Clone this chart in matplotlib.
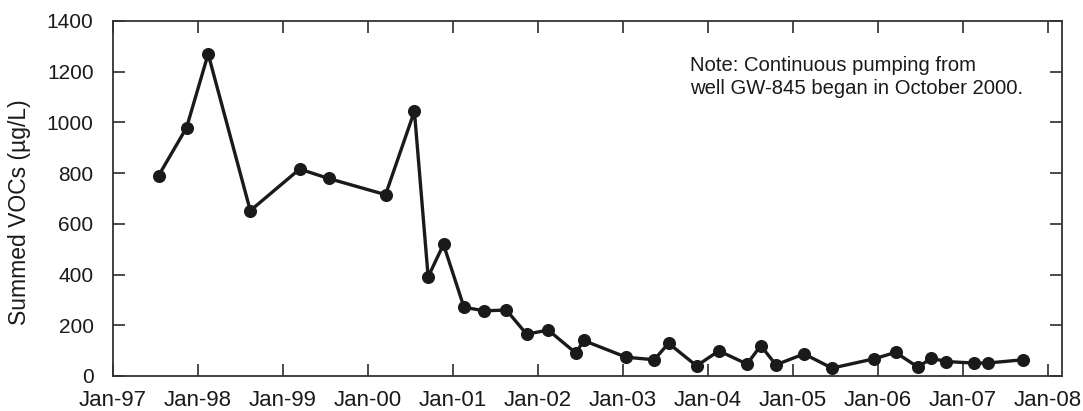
import matplotlib
matplotlib.use('Agg')
import matplotlib.pyplot as plt
import matplotlib.dates as mdates
import numpy as np
from datetime import datetime

dates = ['1997-07-16', '1997-11-13', '1998-02-14', '1998-08-14', '1999-03-14',
         '1999-07-16', '2000-03-17', '2000-07-19', '2000-09-16', '2000-11-21',
         '2001-02-17', '2001-05-15', '2001-08-18', '2001-11-13', '2002-02-14',
         '2002-06-13', '2002-07-16', '2003-01-15', '2003-05-15', '2003-07-16',
         '2003-11-13', '2004-02-17', '2004-06-17', '2004-08-15', '2004-10-19',
         '2005-02-17', '2005-06-17', '2005-12-16', '2006-03-17', '2006-06-21',
         '2006-08-18', '2006-10-19', '2007-02-17', '2007-04-16', '2007-09-16']
vocs = [790, 979, 1270, 652, 816, 779, 715, 1044, 391, 519,
        271, 257, 260, 165, 181, 90, 140, 74, 64, 129,
        40, 99, 47, 120, 44, 87, 31, 68, 93, 35,
        70, 57, 51, 51, 64]
tick_years = list(range(1997, 2009))
yticks = [0, 200, 400, 600, 800, 1000, 1200, 1400]

plt.rcParams['font.family'] = ['Liberation Sans', 'DejaVu Sans']

x = [datetime.strptime(d, '%Y-%m-%d') for d in dates]

fig = plt.figure(figsize=(10.83, 4.11), dpi=100)
ax = fig.add_axes([0.1043, 0.0852, 0.8763, 0.8638])
ax.plot(x, vocs, '-o', color='#1a1a1a', lw=2.4, ms=8.4)

ax.set_xlim(datetime(1997, 1, 1), datetime(2008, 3, 1))
ax.set_ylim(0, 1400)
ax.set_xticks([datetime(y, 1, 1) for y in tick_years])
ax.xaxis.set_major_formatter(mdates.DateFormatter('Jan-%y'))
ax.set_yticks(yticks)
ax.tick_params(direction='in', length=8.5, width=1.1, top=True, right=True,
               colors='#1a1a1a')
ax.tick_params(axis='x', labelsize=16, pad=10)
ax.tick_params(axis='y', labelsize=15, pad=14)
for s in ax.spines.values():
    s.set_linewidth(1.3)
    s.set_color('#333333')
ax.set_ylabel('Summed VOCs (µg/L)', fontsize=16.5, color='#1a1a1a')
ax.yaxis.set_label_coords(-0.086, 0.46)

fig.text(0.637, 0.864, 'Note: Continuous pumping from\nwell GW-845 began in October 2000.',
         fontsize=14.6, va='top', ha='left', color='#1a1a1a', linespacing=1.3)

fig.savefig('out.png', dpi=100)
